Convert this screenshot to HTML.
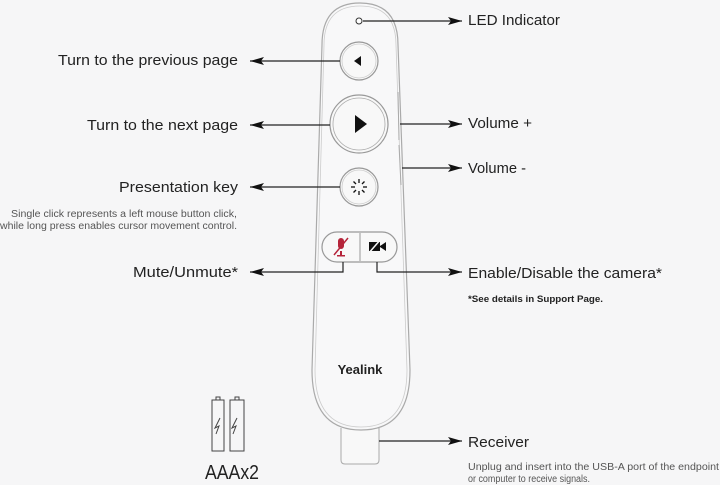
<!DOCTYPE html>
<html><head><meta charset="utf-8"><style>
html,body{margin:0;padding:0;background:#f6f6f7;}
svg{display:block;}
text{font-family:"Liberation Sans",sans-serif;fill:#222;}
</style></head><body>
<svg width="720" height="485" viewBox="0 0 720 485" xmlns="http://www.w3.org/2000/svg">
<defs>
<marker id="ar" markerWidth="14" markerHeight="8" refX="14" refY="4" orient="auto" markerUnits="userSpaceOnUse"><path d="M14,4 L0,0 L3,4 L0,8 Z" fill="#111"/></marker>
</defs>
<rect width="720" height="485" fill="#f6f6f7"/>
<path d="M341,428 L341,460 Q341,464 345,464 L375,464 Q379,464 379,460 L379,428" fill="#f8f8f8" stroke="#aaa" stroke-width="1"/>
<path d="M322,45 Q322,3 360,3 Q398,3 398,45 L410,370 Q410,430 361,430 Q312,430 312,370 Z" fill="#f8f8f9" stroke="#aaa" stroke-width="1.2"/>
<path d="M324,45 Q324,6 360,6 Q396,6 396,45 L407,370 Q407,427 361,427 Q315,427 315,370 Z" fill="none" stroke="#ccc" stroke-width="0.8"/>
<circle cx="359" cy="21" r="3" fill="#fff" stroke="#333" stroke-width="1"/>
<circle cx="359" cy="61" r="19" fill="#f8f8f8" stroke="#999" stroke-width="1.2"/>
<circle cx="359" cy="61" r="17" fill="none" stroke="#ccc" stroke-width="0.8"/>
<path d="M354,61 L361,56 L361,66 Z" fill="#111"/>
<circle cx="359" cy="124" r="29" fill="#f8f8f8" stroke="#999" stroke-width="1.2"/>
<circle cx="359" cy="124" r="26" fill="none" stroke="#aaa" stroke-width="0.8"/>
<path d="M355,115 L367,124 L355,133 Z" fill="#111"/>
<circle cx="359" cy="187" r="19" fill="#f8f8f8" stroke="#999" stroke-width="1.2"/>
<circle cx="359" cy="187" r="17" fill="none" stroke="#ccc" stroke-width="0.8"/>
<g stroke="#111" stroke-width="1.3">
<line x1="359" y1="179" x2="359" y2="183"/><line x1="359" y1="191" x2="359" y2="195"/>
<line x1="351" y1="187" x2="355" y2="187"/><line x1="363" y1="187" x2="367" y2="187"/>
<line x1="353.5" y1="181.5" x2="356" y2="184"/><line x1="362" y1="190" x2="364.5" y2="192.5"/>
<line x1="364.5" y1="181.5" x2="362" y2="184"/><line x1="356" y1="190" x2="353.5" y2="192.5"/>
</g>
<rect x="322" y="232" width="75" height="30" rx="15" fill="#f8f8f8" stroke="#999" stroke-width="1.2"/>
<line x1="360" y1="233" x2="360" y2="261" stroke="#999"/>
<g fill="#b5243a"><rect x="338" y="238" width="6" height="11" rx="3"/><rect x="340" y="251" width="2" height="5"/><rect x="337" y="255" width="8" height="1.5"/></g>
<line x1="334" y1="255" x2="348" y2="238" stroke="#b5243a" stroke-width="1.5"/>
<rect x="369" y="242" width="11" height="9" fill="#111"/><path d="M380,246 L386,242 L386,251 L380,247 Z" fill="#111"/>
<line x1="368" y1="254" x2="381" y2="239" stroke="#f8f8f8" stroke-width="1.5"/>
<line x1="398" y1="92" x2="399" y2="140" stroke="#aaa"/>
<line x1="399" y1="145" x2="401" y2="185" stroke="#aaa"/>
<text x="360" y="374" text-anchor="middle" font-size="13" font-weight="bold">Yealink</text>
<g stroke="#222" stroke-width="1.2" fill="none">
<line x1="363" y1="21" x2="462" y2="21" marker-end="url(#ar)"/>
<line x1="340" y1="61" x2="250" y2="61" marker-end="url(#ar)"/>
<line x1="330" y1="125" x2="250" y2="125" marker-end="url(#ar)"/>
<line x1="340" y1="187" x2="250" y2="187" marker-end="url(#ar)"/>
<polyline points="343,262 343,272 250,272" marker-end="url(#ar)"/>
<polyline points="377,262 377,272 462,272" marker-end="url(#ar)"/>
<line x1="400" y1="124" x2="462" y2="124" marker-end="url(#ar)"/>
<line x1="402" y1="168" x2="462" y2="168" marker-end="url(#ar)"/>
<line x1="379" y1="441" x2="462" y2="441" marker-end="url(#ar)"/>
</g>
<text x="238" y="65" text-anchor="end" font-size="15" textLength="180" lengthAdjust="spacingAndGlyphs">Turn to the previous page</text>
<text x="238" y="130" text-anchor="end" font-size="15" textLength="151" lengthAdjust="spacingAndGlyphs">Turn to the next page</text>
<text x="238" y="192" text-anchor="end" font-size="15" textLength="119" lengthAdjust="spacingAndGlyphs">Presentation key</text>
<text x="237" y="217" text-anchor="end" font-size="10" textLength="226" lengthAdjust="spacingAndGlyphs" style="fill:#555">Single click represents a left mouse button click,</text>
<text x="237" y="229" text-anchor="end" font-size="10" textLength="237" lengthAdjust="spacingAndGlyphs" style="fill:#555">while long press enables cursor movement control.</text>
<text x="238" y="277" text-anchor="end" font-size="15" textLength="105" lengthAdjust="spacingAndGlyphs">Mute/Unmute*</text>
<text x="468" y="25" font-size="15" textLength="92" lengthAdjust="spacingAndGlyphs">LED Indicator</text>
<text x="468" y="128" font-size="15" textLength="64" lengthAdjust="spacingAndGlyphs">Volume +</text>
<text x="468" y="173" font-size="15" textLength="58" lengthAdjust="spacingAndGlyphs">Volume -</text>
<text x="468" y="278" font-size="15" textLength="194" lengthAdjust="spacingAndGlyphs">Enable/Disable the camera*</text>
<text x="468" y="302" font-size="9" font-weight="bold" textLength="135" lengthAdjust="spacingAndGlyphs">*See details in Support Page.</text>
<text x="468" y="447" font-size="15" textLength="61" lengthAdjust="spacingAndGlyphs">Receiver</text>
<text x="468" y="470" font-size="10" textLength="251" lengthAdjust="spacingAndGlyphs" style="fill:#555">Unplug and insert into the USB-A port of the endpoint</text>
<text x="468" y="482" font-size="10" textLength="122" lengthAdjust="spacingAndGlyphs" style="fill:#555">or computer to receive signals.</text>
<g fill="none" stroke="#444" stroke-width="1">
<rect x="212" y="400" width="12" height="51"/><rect x="216" y="397" width="4" height="3"/>
<rect x="230" y="400" width="14" height="51"/><rect x="235" y="397" width="4" height="3"/>
<path d="M220,418 L215,428 L219,426 L216,434 M237,418 L232,428 L236,426 L233,434"/>
</g>
<text x="232" y="479" text-anchor="middle" font-size="20" textLength="54" lengthAdjust="spacingAndGlyphs">AAAx2</text>
</svg>
</body></html>
